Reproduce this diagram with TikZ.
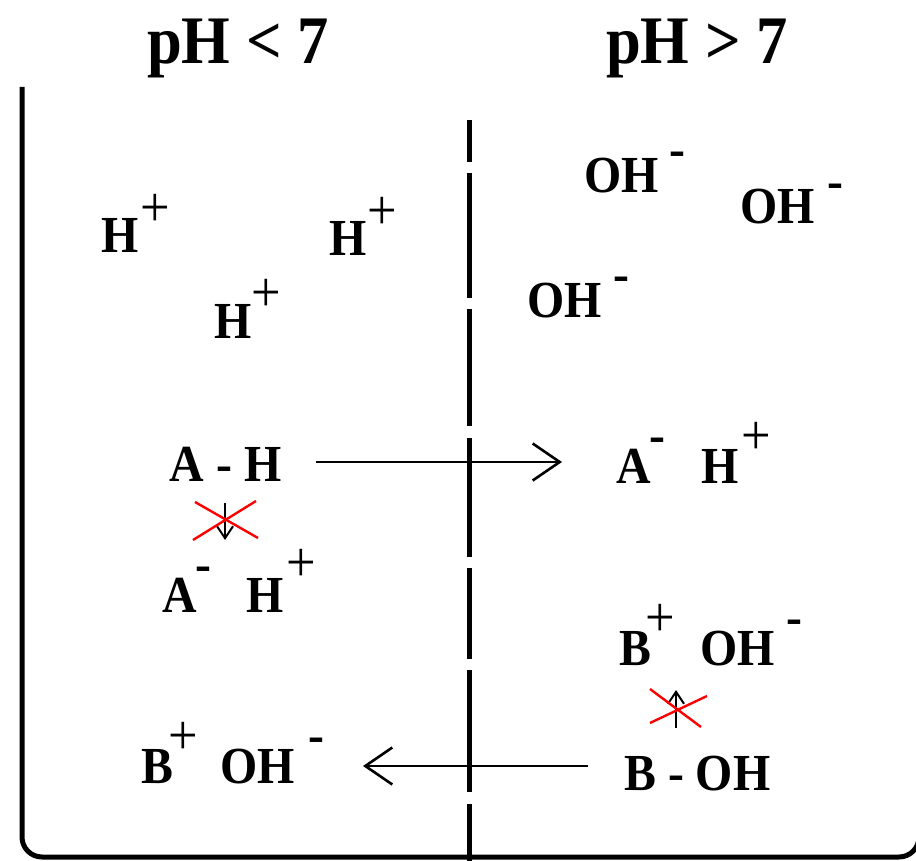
\documentclass[tikz,border=0pt]{standalone}
\usepackage{fontspec}
\newfontfamily\cf[FakeStretch=0.92,BoldFont={* Bold}]{Liberation Serif}
\usetikzlibrary{arrows.meta}
\begin{document}
\begin{tikzpicture}[x=1pt,y=-1pt,
  txt/.style={inner sep=0pt, anchor=base west, font=\cf\bfseries\fontsize{52}{52}\selectfont},
  ttl/.style={inner sep=0pt, anchor=base west, font=\cf\bfseries\fontsize{68}{68}\selectfont},
  plus/.style={inner sep=0pt, anchor=center, font=\cf\fontsize{57}{57}\selectfont},
  minus/.style={inner sep=0pt, anchor=base, font=\cf\bfseries\fontsize{52}{52}\selectfont},
  wall/.style={line width=5pt, rounded corners=20pt},
  dsh/.style={line width=5pt},
  bigarrow/.style={line width=2.6pt, -{Straight Barb[length=27pt,width=37pt]}},
  smallarrow/.style={line width=2pt, -{Straight Barb[length=12pt,width=16pt]}},
  cross/.style={red, line width=2.4pt}]
\useasboundingbox (0,0) rectangle (916,861);
% container
\draw[wall] (22,87) -- (22,857) -- (919,857) -- (919,87);
% divider
\foreach \a/\b in {120/162,173/298,309/426,438/557,568/659,670/792,804/861}
  \draw[dsh] (469,\a) -- (469,\b);
% titles
\node[ttl] (t1) at (147,64) {pH < 7};
\node[ttl] (t2) at (606,64) {pH > 7};
% left: H+
\node[txt] (h1) at (101,253) {H};  \node[plus] (h1p) at (155,210) {+};
\node[txt] (h2) at (329,256) {H};  \node[plus] (h2p) at (382,213.5) {+};
\node[txt] (h3) at (214,338) {H};  \node[plus] (h3p) at (266,295.5) {+};
% right: OH-
\node[txt] (o1) at (584.5,193) {OH}; \node[minus] (o1m) at (677.5,166.5) {-};
\node[txt] (o2) at (740.5,224) {OH}; \node[minus] (o2m) at (835,198.5) {-};
\node[txt] (o3) at (527.5,317) {OH}; \node[minus] (o3m) at (621.5,291.5) {-};
% acid
\node[txt] (ah) at (169.5,481) {A - H};
\node[txt] (al) at (162.5,612) {A}; \node[minus] (alm) at (203,581) {-};
\node[txt] (hl) at (246,612) {H}; \node[plus] (hlp) at (301.5,565.5) {+};
\node[txt] (ar) at (616.5,483) {A}; \node[minus] (arm) at (657.5,452.5) {-};
\node[txt] (hr) at (701,483) {H}; \node[plus] (hrp) at (756.5,438.5) {+};
% base
\node[txt] (br) at (619,665) {B}; \node[plus] (brp) at (660.5,620) {+};
\node[txt] (ohr) at (700.5,665) {OH}; \node[minus] (ohrm) at (794,634.5) {-};
\node[txt] (boh) at (624,790) {B - OH};
\node[txt] (bl) at (141,783) {B}; \node[plus] (blp) at (183.5,738.5) {+};
\node[txt] (ohl) at (220.5,783) {OH}; \node[minus] (ohlm) at (316.5,752.5) {-};
% arrows
\coordinate (r1) at (316,462); \coordinate (r2) at (562,462);
\coordinate (l1) at (588,766); \coordinate (l2) at (363,766);
\draw[bigarrow] (r1) -- (r2);
\draw[bigarrow] (l1) -- (l2);
\coordinate (d1) at (225,503); \coordinate (d2) at (225,540);
\coordinate (u1) at (676,728); \coordinate (u2) at (676,690);
\draw[smallarrow] (d1) -- (d2);
\draw[smallarrow] (u1) -- (u2);
% red crosses
\draw[cross] (195,502) -- (258,538);
\draw[cross] (193,540) -- (256,501);
\draw[cross] (650,723) -- (707,696);
\draw[cross] (650,689) -- (701,727);
\end{tikzpicture}
\end{document}
